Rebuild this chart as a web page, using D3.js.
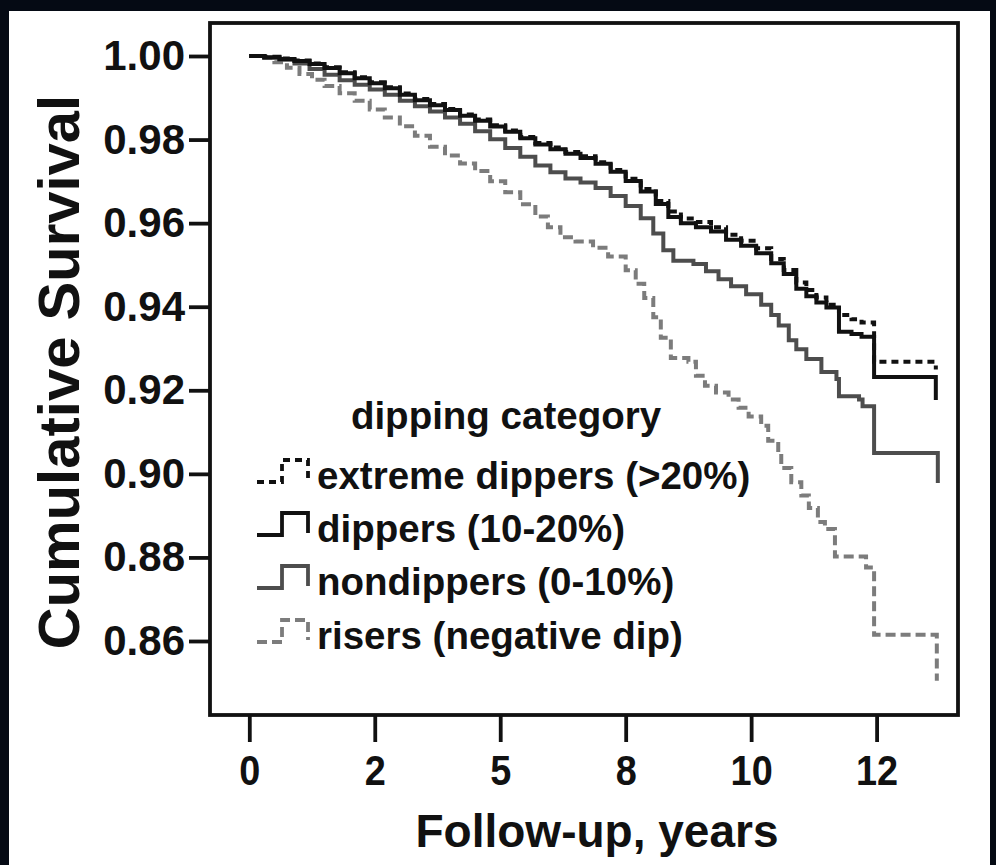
<!DOCTYPE html>
<html>
<head>
<meta charset="utf-8">
<script src="https://cdn.jsdelivr.net/npm/d3@7"></script>
<style>
  html, body { margin: 0; padding: 0; background: #050a14; }
  svg { display: block; }
</style>
</head>
<body>
<svg id="chart" width="996" height="865"></svg>
<script>
// Kaplan-Meier survival by nocturnal dipping category: [years, cumulative survival]
const seriesNames = ["extreme dippers (>20%)", "dippers (10-20%)", "nondippers (0-10%)", "risers (negative dip)"];
const legendTitle = "dipping category";
const xTitle = "Follow-up, years";
const yTitle = "Cumulative Survival";

const xTicks = [0, 2.5, 5, 7.5, 10, 12.5];
const xTickLabels = ["0", "2", "5", "8", "10", "12"];
const yTicks = [0.86, 0.88, 0.90, 0.92, 0.94, 0.96, 0.98, 1.00];

const extremeDippers = [
  [0, 1.0], [0.30, 0.9998], [0.60, 0.9994], [0.90, 0.9989], [1.20, 0.9982], [1.50, 0.9973],
  [1.80, 0.9961], [2.10, 0.9949], [2.40, 0.9937], [2.70, 0.9925], [3.00, 0.9910], [3.30, 0.9897],
  [3.60, 0.9885], [3.90, 0.9873], [4.20, 0.9860], [4.50, 0.9848], [4.80, 0.9834], [5.10, 0.9822],
  [5.40, 0.9806], [5.70, 0.9792], [6.00, 0.9781], [6.30, 0.9770], [6.60, 0.9760], [6.90, 0.9746],
  [7.20, 0.9727], [7.50, 0.9706], [7.80, 0.9682], [8.10, 0.9653], [8.35, 0.9628], [8.60, 0.9611],
  [8.90, 0.9603], [9.20, 0.9590], [9.50, 0.9572], [9.80, 0.9558], [10.10, 0.9540], [10.40, 0.9514],
  [10.65, 0.9488], [10.90, 0.9458], [11.10, 0.9440], [11.30, 0.9422], [11.50, 0.9405], [11.75, 0.9380],
  [12.00, 0.9370], [12.20, 0.9362], [12.45, 0.9268], [13.68, 0.9250]
];

const dippers = [
  [0, 1.0], [0.30, 0.9997], [0.60, 0.9993], [0.90, 0.9988], [1.20, 0.9981], [1.50, 0.9971],
  [1.80, 0.9959], [2.10, 0.9947], [2.40, 0.9935], [2.70, 0.9923], [3.00, 0.9907], [3.30, 0.9894],
  [3.60, 0.9882], [3.90, 0.9871], [4.20, 0.9857], [4.50, 0.9845], [4.80, 0.9831], [5.10, 0.9819],
  [5.40, 0.9803], [5.70, 0.9788], [6.00, 0.9777], [6.30, 0.9766], [6.60, 0.9756], [6.90, 0.9742],
  [7.20, 0.9723], [7.50, 0.9701], [7.80, 0.9676], [8.10, 0.9646], [8.35, 0.9615], [8.60, 0.9600],
  [8.90, 0.9590], [9.20, 0.9580], [9.50, 0.9560], [9.80, 0.9546], [10.10, 0.9528], [10.40, 0.9504],
  [10.65, 0.9478], [10.90, 0.9443], [11.10, 0.9425], [11.30, 0.9410], [11.50, 0.9398], [11.75, 0.9340],
  [12.00, 0.9335], [12.20, 0.9328], [12.45, 0.9232], [13.68, 0.9177]
];

const nondippers = [
  [0, 1.0], [0.30, 0.9996], [0.60, 0.9991], [0.90, 0.9982], [1.20, 0.9969], [1.50, 0.9955],
  [1.80, 0.9942], [2.10, 0.9931], [2.40, 0.9920], [2.70, 0.9907], [3.00, 0.9893], [3.30, 0.9880],
  [3.60, 0.9867], [3.90, 0.9853], [4.20, 0.9838], [4.50, 0.9820], [4.80, 0.9801], [5.10, 0.9780],
  [5.40, 0.9759], [5.70, 0.9738], [6.00, 0.9722], [6.30, 0.9707], [6.60, 0.9697], [6.90, 0.9684],
  [7.20, 0.9665], [7.50, 0.9641], [7.80, 0.9612], [8.05, 0.9575], [8.25, 0.9535], [8.45, 0.9510],
  [8.85, 0.9502], [9.10, 0.9485], [9.35, 0.9466], [9.60, 0.9449], [9.90, 0.9430], [10.20, 0.9405],
  [10.40, 0.9380], [10.55, 0.9355], [10.75, 0.9320], [10.90, 0.9298], [11.10, 0.9275], [11.40, 0.9244],
  [11.70, 0.9227], [11.75, 0.9186], [12.15, 0.9178], [12.22, 0.9162], [12.45, 0.9050], [13.72, 0.8978]
];

const risers = [
  [0, 1.0], [0.25, 0.9995], [0.50, 0.9985], [0.75, 0.9972], [1.00, 0.9957], [1.25, 0.9943],
  [1.50, 0.9928], [1.80, 0.9911], [2.10, 0.9893], [2.40, 0.9872], [2.70, 0.9853], [3.00, 0.9832],
  [3.30, 0.9809], [3.60, 0.9783], [3.90, 0.9762], [4.20, 0.9743], [4.50, 0.9725], [4.80, 0.9700],
  [5.10, 0.9674], [5.40, 0.9645], [5.70, 0.9616], [5.95, 0.9590], [6.20, 0.9566], [6.50, 0.9556],
  [6.85, 0.9541], [7.15, 0.9520], [7.50, 0.9487], [7.70, 0.9455], [7.87, 0.9421], [8.05, 0.9375],
  [8.20, 0.9326], [8.40, 0.9277], [8.75, 0.9268], [8.90, 0.9235], [9.08, 0.9211], [9.30, 0.9195],
  [9.55, 0.9178], [9.75, 0.9158], [9.95, 0.9137], [10.20, 0.9115], [10.34, 0.9079], [10.54, 0.9050],
  [10.60, 0.9014], [10.80, 0.8980], [11.00, 0.8948], [11.15, 0.8918], [11.33, 0.8885], [11.47, 0.8868],
  [11.67, 0.8802], [12.29, 0.8776], [12.45, 0.8615], [13.70, 0.8505]
];

const seriesData = [extremeDippers, dippers, nondippers, risers];
const seriesColors = ["#111111", "#111111", "#4d4d4d", "#7c7c7c"];
const seriesDash = ["7,5", null, null, "10,5"];

// ---- layout ----
const W = 996, H = 865;
const frame = { left: 210, top: 23, right: 958, bottom: 715 };
const paper = { left: 9, top: 11, right: 990 };
const svg = d3.select("#chart");

svg.append("rect").attr("x", 0).attr("y", 0).attr("width", W).attr("height", H).attr("fill", "#050a14");
svg.append("rect")
  .attr("x", paper.left).attr("y", paper.top)
  .attr("width", paper.right - paper.left).attr("height", H - paper.top)
  .attr("fill", "#ffffff");

const x = d3.scaleLinear().domain([0, 12.5]).range([249.3, 876.6]);
const y = d3.scaleLinear().domain([0.86, 1.00]).range([641, 56]);

const INK = "#111111";
const axisFont = "'Liberation Sans', Arial, sans-serif";

// y axis
const yAxis = svg.append("g")
  .attr("transform", `translate(${frame.left},0)`)
  .call(d3.axisLeft(y).tickValues(yTicks).tickFormat(d3.format(".2f")).tickSize(21).tickSizeOuter(0).tickPadding(4));
yAxis.select(".domain").remove();
yAxis.selectAll(".tick line").attr("stroke", INK).attr("stroke-width", 3.8);
yAxis.selectAll(".tick text")
  .attr("fill", INK).style("font-family", axisFont).style("font-weight", "bold").style("font-size", "42px");

// x axis
const xAxis = svg.append("g")
  .attr("transform", `translate(0,${frame.bottom})`)
  .call(d3.axisBottom(x).tickValues(xTicks).tickFormat((d, i) => xTickLabels[i]).tickSize(27).tickSizeOuter(0).tickPadding(12));
xAxis.select(".domain").remove();
xAxis.selectAll(".tick line").attr("stroke", INK).attr("stroke-width", 3.8);
xAxis.selectAll(".tick text")
  .attr("fill", INK).style("font-family", axisFont).style("font-weight", "bold").style("font-size", "43px")
  .attr("transform", "scale(0.88,1)");

// plot frame
svg.append("rect")
  .attr("x", frame.left).attr("y", frame.top)
  .attr("width", frame.right - frame.left).attr("height", frame.bottom - frame.top)
  .attr("fill", "none").attr("stroke", INK).attr("stroke-width", 3.8);

// survival curves (risers drawn first so the black curves sit on top)
const line = d3.line().x(d => x(d[0])).y(d => y(d[1])).curve(d3.curveStepAfter);
[3, 2, 0, 1].forEach(i => {
  svg.append("path")
    .datum(seriesData[i])
    .attr("d", line)
    .attr("fill", "none")
    .attr("stroke", seriesColors[i])
    .attr("stroke-width", 4)
    .attr("stroke-dasharray", seriesDash[i])
    .attr("stroke-linejoin", "miter");
});

// axis titles
svg.append("text")
  .attr("x", 597).attr("y", 847).attr("text-anchor", "middle")
  .attr("fill", INK).style("font-family", axisFont).style("font-weight", "bold").style("font-size", "46px")
  .text(xTitle);

svg.append("text")
  .attr("transform", "translate(79,372) rotate(-90)").attr("text-anchor", "middle")
  .attr("fill", INK).style("font-family", axisFont).style("font-weight", "bold").style("font-size", "58px")
  .text(yTitle);

// legend
const legend = svg.append("g");
legend.append("text")
  .attr("x", 506).attr("y", 429).attr("text-anchor", "middle")
  .attr("fill", INK).style("font-family", axisFont).style("font-weight", "bold").style("font-size", "38.5px")
  .text(legendTitle);

const rowBase = [489, 542, 595, 649];
seriesNames.forEach((name, i) => {
  const b = rowBase[i];
  legend.append("path")
    .attr("d", `M257,${b - 7}H282V${b - 29}H308V${b - 9}`)
    .attr("fill", "none")
    .attr("stroke", seriesColors[i])
    .attr("stroke-width", 3.8)
    .attr("stroke-dasharray", seriesDash[i]);
  legend.append("text")
    .attr("x", 317).attr("y", b)
    .attr("fill", INK).style("font-family", axisFont).style("font-weight", "bold").style("font-size", "38.5px")
    .text(name);
});
</script>
</body>
</html>
